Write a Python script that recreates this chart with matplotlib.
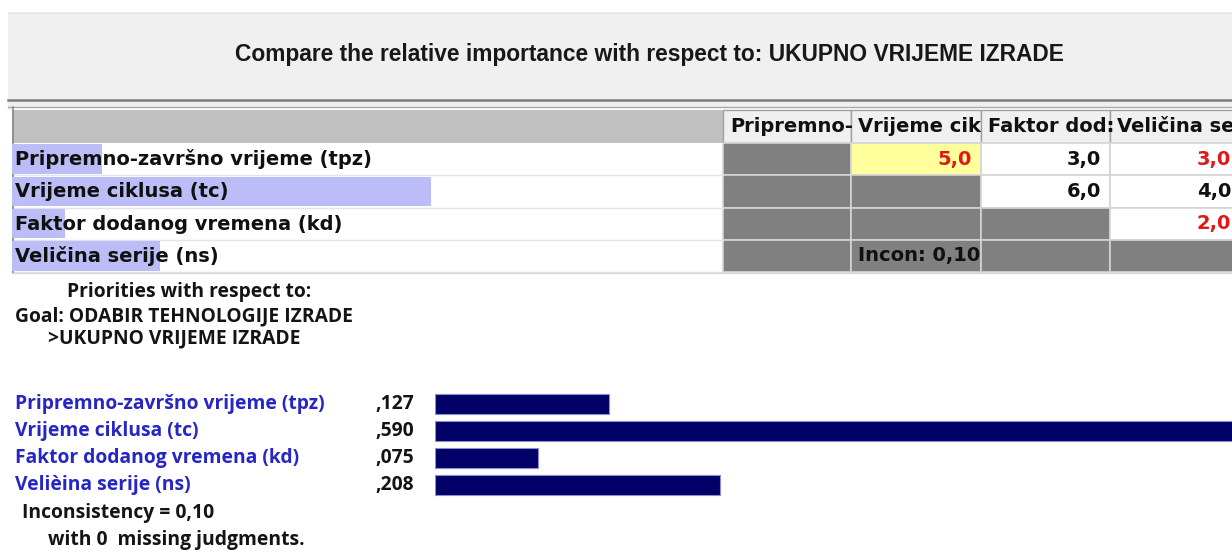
import matplotlib
matplotlib.use("Agg")
import matplotlib.pyplot as plt
from matplotlib.patches import Rectangle
from matplotlib import font_manager as fm

# ---------------- data ----------------
title = "Compare the relative importance with respect to: UKUPNO VRIJEME IZRADE"
criteria = ["Pripremno-završno vrijeme (tpz)", "Vrijeme ciklusa (tc)",
            "Faktor dodanog vremena (kd)", "Veličina serije (ns)"]
result_labels = ["Pripremno-završno vrijeme (tpz)", "Vrijeme ciklusa (tc)",
                 "Faktor dodanog vremena (kd)", "Velièina serije (ns)"]
column_headers = ["Pripremno-", "Vrijeme cik", "Faktor dod:", "Veličina se"]
priorities = [0.127, 0.590, 0.075, 0.208]
priority_text = [",127", ",590", ",075", ",208"]
judgment_rows = [0, 0, 0, 1, 1, 2]
judgment_cols = [1, 2, 3, 2, 3, 3]
judgment_values = [5.0, 3.0, 3.0, 6.0, 4.0, 2.0]
judgment_inverted = [True, False, True, False, False, True]
selected_cell = (0, 1)
inconsistency_text = "0,10"
missing_judgments = 0
goal_name = "ODABIR TEHNOLOGIJE IZRADE"
node_name = "UKUPNO VRIJEME IZRADE"

# ---------------- figure ----------------
W, H = 1232, 552
fig = plt.figure(figsize=(W / 100, H / 100), dpi=100)
fig.patch.set_facecolor("white")


def px_axes(z):
    a = fig.add_axes([0, 0, 1, 1], zorder=z)
    a.set_xlim(0, W)
    a.set_ylim(H, 0)
    a.axis("off")
    a.patch.set_alpha(0)
    return a


bg = px_axes(0)
fg = px_axes(3)


def pick_font(names, weight="bold"):
    for name in names:
        try:
            fp = fm.FontProperties(family=name, weight=weight)
            path = fm.findfont(fp, fallback_to_default=False).lower()
            if weight == "bold" and "bold" not in path:
                continue
            return name
        except Exception:
            continue
    return "DejaVu Sans"


title_font = pick_font(["Liberation Sans", "Roboto", "DejaVu Sans"], weight="bold")
table_font = "DejaVu Sans"
bottom_font = pick_font(["Open Sans", "Noto Sans", "Lato", "DejaVu Sans"], weight="bold")

renderer = fig.canvas.get_renderer()


def fit(t, width):
    bb = t.get_window_extent(renderer)
    t.set_fontsize(t.get_fontsize() * width / bb.width)
    return t.get_fontsize()


def rect(x0, y0, x1, y1, fc, ec="none", lw=0, z=1):
    bg.add_patch(Rectangle((x0, y0), x1 - x0, y1 - y0, facecolor=fc,
                           edgecolor=ec, linewidth=lw, zorder=z))


# ---------------- header panel ----------------
rect(8, 12, W, 110, "#f0f0f0")
bg.plot([8, W], [12.5, 12.5], color="#e2e2e2", lw=0.8, zorder=2)
bg.plot([8, W], [99.5, 99.5], color="#7c7c7c", lw=1.8, zorder=2)
bg.plot([8, W], [106.5, 106.5], color="#a8a8a8", lw=1.0, zorder=2)

t = fg.text(649, 55, title, ha="center", va="center", family=title_font,
            weight="bold", fontsize=14, color="#181818")
fit(t, 832)

# ---------------- comparison table ----------------
col_x = [12, 723, 851, 981, 1110, 1240]
row_y = [110, 143, 175, 208, 240, 272]

rect(12, 108, W, 273, "white")
rect(12, row_y[0], col_x[1], row_y[1], "#c0c0c0")
for c in range(4):
    rect(col_x[c + 1], row_y[0], col_x[c + 2], row_y[1], "#f0f0f0",
         ec="#a0a0a0", lw=1.0, z=2)

for r in range(4):
    for c in range(4):
        fc = "#808080" if c <= r else "white"
        if (r, c) == selected_cell:
            fc = "#ffff9c"
        rect(col_x[c + 1], row_y[r + 1], col_x[c + 2], row_y[r + 2], fc,
             ec="#d4d4d4", lw=1.2, z=2)
    bg.plot([12, col_x[1]], [row_y[r + 2] - 0.5] * 2, color="#e4e4e4", lw=1.0, zorder=3)

bg.plot([12.5, 12.5], [107, 273], color="#8a8a8a", lw=1.2, zorder=4)
bg.plot([12, W], [272.5, 272.5], color="#d8d8d8", lw=1.0, zorder=4)

# priority highlights inside the label column
hl = fig.add_axes([12 / W, 1 - row_y[5] / H, (col_x[1] - 12) / W,
                   (row_y[5] - row_y[1]) / H], zorder=1)
hl.barh(range(len(priorities)), priorities, height=0.92, color="#bcbcf6", align="center")
hl.set_xlim(0, 1)
hl.set_ylim(len(priorities) - 0.5, -0.5)
hl.axis("off")
hl.patch.set_alpha(0)

ref = fg.text(15, 0, criteria[0], family=table_font, weight="bold", fontsize=12)
tsize = fit(ref, 357)
ref.remove()

for i, name in enumerate(criteria):
    yc = (row_y[i + 1] + row_y[i + 2]) / 2
    fg.text(15, yc, name, ha="left", va="center", family=table_font,
            weight="bold", fontsize=tsize, color="#101010")

for c, h in enumerate(column_headers):
    fg.text(col_x[c + 1] + 7, (row_y[0] + row_y[1]) / 2, h, ha="left", va="center",
            family=table_font, weight="bold", fontsize=tsize, color="#101010")

for r, c, v, inv in zip(judgment_rows, judgment_cols, judgment_values, judgment_inverted):
    yc = (row_y[r + 1] + row_y[r + 2]) / 2
    s = f"{v:.1f}".replace(".", ",")
    fg.text(col_x[c + 2] - 9, yc, s, ha="right", va="center", family=table_font,
            weight="bold", fontsize=tsize, color="#e01818" if inv else "#101010")

fg.text(col_x[2] + 7, (row_y[4] + row_y[5]) / 2, "Incon: " + inconsistency_text,
        ha="left", va="center", family=table_font, weight="bold", fontsize=tsize,
        color="#101010")

# ---------------- priorities section ----------------
ref = fg.text(15, 0, "Goal: " + goal_name, family=bottom_font, weight="bold", fontsize=12)
bsize = fit(ref, 337)
ref.remove()

dark = "#141414"
fg.text(67, 292, "Priorities with respect to:", ha="left", va="center",
        family=bottom_font, weight="bold", fontsize=bsize, color=dark)
fg.text(15, 316, "Goal: " + goal_name, ha="left", va="center",
        family=bottom_font, weight="bold", fontsize=bsize, color=dark)
fg.text(48, 338, ">" + node_name, ha="left", va="center",
        family=bottom_font, weight="bold", fontsize=bsize, color=dark)

bar_top, slot = 390.5, 27.0
n = len(priorities)
bx = fig.add_axes([435 / W, 1 - (bar_top + n * slot) / H, (W - 435) / W, n * slot / H],
                  zorder=2)
bx.barh(range(n), priorities, height=20 / 27, color="#000066",
        edgecolor="#8c8cd0", linewidth=0.8, align="center")
bx.set_xlim(0, (W - 435) / 1370)
bx.set_ylim(n - 0.5, -0.5)
bx.axis("off")
bx.patch.set_alpha(0)

for i in range(n):
    yc = bar_top + slot * (i + 0.5)
    fg.text(15, yc, result_labels[i], ha="left", va="center", family=bottom_font,
            weight="bold", fontsize=bsize, color="#2626c4")
    fg.text(375, yc, priority_text[i], ha="left", va="center", family=bottom_font,
            weight="bold", fontsize=bsize, color=dark)

fg.text(22, 513, "Inconsistency = " + inconsistency_text, ha="left", va="center",
        family=bottom_font, weight="bold", fontsize=bsize, color=dark)
fg.text(48, 540, f"with {missing_judgments}  missing judgments.", ha="left", va="center",
        family=bottom_font, weight="bold", fontsize=bsize, color=dark)

fig.savefig("out.png", dpi=100, facecolor=fig.get_facecolor())
